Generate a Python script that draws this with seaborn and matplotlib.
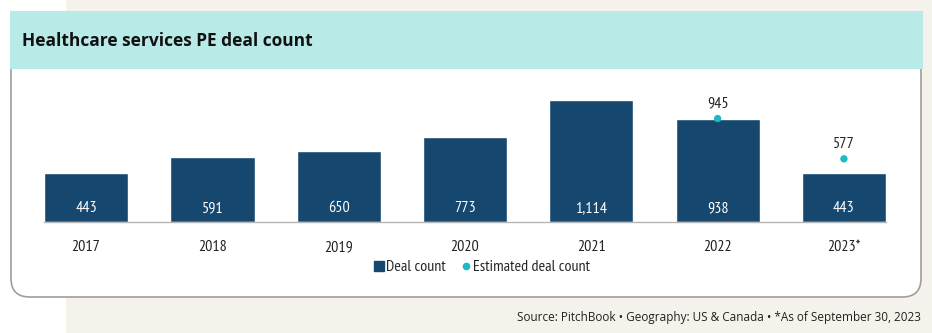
import matplotlib
matplotlib.use("Agg")
import matplotlib.pyplot as plt
from matplotlib.patches import FancyBboxPatch, Rectangle
from matplotlib.lines import Line2D
import seaborn as sns
import pandas as pd

years = ["2017", "2018", "2019", "2020", "2021", "2022", "2023*"]
deal_count = [443, 591, 650, 773, 1114, 938, 443]
est_years = ["2022", "2023*"]
est_count = [945, 577]
bar_labels = ["443", "591", "650", "773", "1,114", "938", "443"]

BAR = "#16476f"
DOT = "#1cbac4"
HEAD = "#b8eae8"
BEIGE = "#f5f2ec"

sns.set_theme(style="white")
plt.rcParams["font.family"] = ["PT Sans Narrow", "DejaVu Sans"]

W, H = 932, 333
fig = plt.figure(figsize=(W / 100, H / 100), dpi=100)
fig.patch.set_facecolor("white")

def fx(x): return x / W
def fy(y): return 1 - y / H

# beige backdrop
fig.patches.append(Rectangle((fx(66), 0), 1 - fx(66), 1, transform=fig.transFigure,
                             facecolor=BEIGE, edgecolor="none", zorder=0))
# card
fig.patches.append(FancyBboxPatch((fx(11), fy(297)), fx(910), fy(12) - fy(297),
                                  boxstyle="round,pad=0,rounding_size=0.02",
                                  transform=fig.transFigure, facecolor="white",
                                  edgecolor="#a09e9a", linewidth=1.2, zorder=1,
                                  mutation_aspect=W / H))
# header band
fig.patches.append(Rectangle((fx(10), fy(69)), fx(913), fy(11) - fy(69),
                             transform=fig.transFigure, facecolor=HEAD,
                             edgecolor="none", zorder=2))
fig.text(fx(22), fy(41), "Healthcare services PE deal count", fontsize=12.5,
         fontweight="bold", family=["Open Sans", "DejaVu Sans"], va="center",
         ha="left", color="#111111", zorder=3)

ax = fig.add_axes([fx(44), fy(222), fx(886) - fx(44), fy(80) - fy(222)])
ax.set_facecolor("none")
ax.set_zorder(5)

df = pd.DataFrame({"year": years, "count": deal_count})
sns.barplot(data=df, x="year", y="count", color=BAR, width=0.667, ax=ax,
            saturation=1, label="Deal count")
est_df = pd.DataFrame({"year": est_years, "est": est_count})
xmap = {y: i for i, y in enumerate(years)}
est_df["x"] = est_df["year"].map(xmap)
sns.scatterplot(data=est_df, x="x", y="est", color=DOT, s=28, edgecolor="none",
                ax=ax, zorder=4, label="Estimated deal count")

ax.set_xlim(-0.333, 6.333)
ax.set_ylim(0, 1297)
for i, lab in enumerate(bar_labels):
    ax.annotate(lab, (i, 0), xytext=(0, 14), textcoords="offset pixels",
                ha="center", va="center", color="white", fontsize=11.5)
for x, v in zip(est_df["x"], est_df["est"]):
    ax.annotate(f"{v:,}", (x, v), xytext=(0, 15), textcoords="offset pixels",
                ha="center", va="center", color="#222222", fontsize=11.5)

ax.set_xlabel("")
ax.set_ylabel("")
ax.set_yticks([])
ax.set_xticks(range(len(years)))
ax.set_xticklabels(years, fontsize=11.5, color="#222222")
ax.tick_params(axis="x", length=0, pad=13)
for s in ["top", "right", "left"]:
    ax.spines[s].set_visible(False)
ax.spines["bottom"].set_color("#b5b5b5")
ax.spines["bottom"].set_linewidth(1)

if ax.get_legend():
    ax.get_legend().remove()
handles = [Line2D([], [], marker="s", linestyle="none", color=BAR, markersize=6.5),
           Line2D([], [], marker="o", linestyle="none", color=DOT, markersize=4.5)]
fig.legend(handles, ["Deal count", "Estimated deal count"], loc="center",
           bbox_to_anchor=(fx(481), fy(267)), ncol=2, frameon=False,
           fontsize=11.5, handletextpad=0.0, columnspacing=0.8, handlelength=0.9)

fig.text(fx(921), fy(318), "Source: PitchBook \u2022 Geography: US & Canada \u2022 *As of September 30, 2023",
         fontsize=8.5, family=["Open Sans", "DejaVu Sans"], ha="right", va="center", color="#222222")

fig.savefig("out.png", dpi=100)
